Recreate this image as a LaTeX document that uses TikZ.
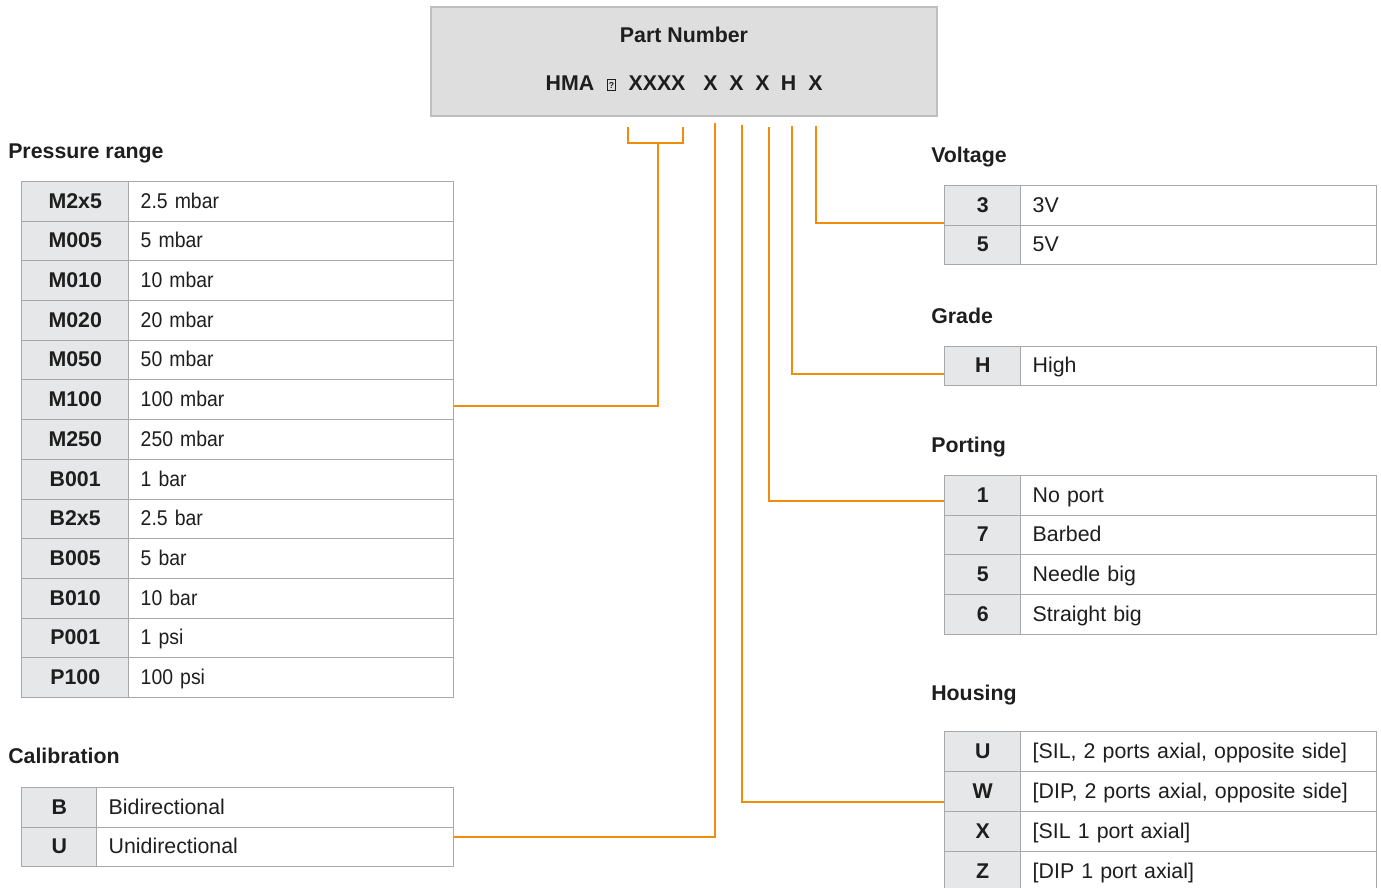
\documentclass[tikz,border=0pt]{standalone}
\usepackage{fontspec}
\setmainfont{Liberation Sans}
\newfontfamily\narrowfont[FakeStretch=0.91]{Liberation Sans}
\definecolor{orangeline}{RGB}{240,140,12}
\definecolor{cellborder}{RGB}{168,168,168}
\definecolor{labfill}{RGB}{230,231,232}
\definecolor{pnfill}{RGB}{222,222,222}
\definecolor{pnborder}{RGB}{190,190,190}
\definecolor{txt}{RGB}{30,30,30}
\newcommand\trow[8]{%
  \node[labcell, minimum width={(#3-#2)*0.75pt}, minimum height={(#6-#5)*0.75pt}, anchor=north west] (#1l) at (#2,#5) {#7};
  \node[valcell, minimum width={(#4-#3)*0.75pt}, text width={(#4-#3-24)*0.75pt}, minimum height={(#6-#5)*0.75pt}, anchor=north west] (#1v) at (#3,#5) {#8};
}
\newcommand\pv[1]{{\narrowfont #1}}
\begin{document}
\begin{tikzpicture}[x=0.75pt,y=-0.75pt,
  labcell/.style={draw=cellborder, fill=labfill, line width=1.1pt, inner sep=0pt,
    font=\bfseries\fontsize{16}{18}\selectfont, text=txt, text height=0.98em, text depth=0pt},
  valcell/.style={draw=cellborder, fill=white, line width=1.1pt, inner xsep=9pt, inner ysep=0pt, align=left,
    font=\fontsize{16}{18}\selectfont, text=txt, text height=0.98em, text depth=0pt},
  title/.style={anchor=west, inner sep=0pt, font=\bfseries\fontsize{16}{18}\selectfont, text=txt, text height=0.98em, text depth=0pt},
  pnpart/.style={inner sep=0pt, font=\bfseries\fontsize{16}{18}\selectfont, text=txt, text height=0.98em, text depth=0pt},
  conn/.style={draw=orangeline, line width=1.5pt}]
\useasboundingbox (0,0) rectangle (1381,888);

% Part number box
\node[draw=pnborder, fill=pnfill, line width=1.2pt, minimum width={506*0.75pt}, minimum height={109*0.75pt}, inner sep=0pt] (pn) at (684,61.5) {};
\node[pnpart] (pntitle) at (684,36) {Part Number};
\node[pnpart] (pnA) at (570,84) {HMA};
\node[draw=txt, line width=0.6pt, inner sep=0pt, minimum width=6.5pt, minimum height=8pt, font=\bfseries\fontsize{6.5}{7}\selectfont, text=txt] (pnB) at (611.5,85) {?};
\node[pnpart] (pnC) at (657,84) {XXXX};
\node[pnpart] (pnD) at (710.5,84) {X};
\node[pnpart] (pnE) at (736.5,84) {X};
\node[pnpart] (pnF) at (762.5,84) {X};
\node[pnpart] (pnG) at (788.5,84) {H};
\node[pnpart] (pnH) at (815.5,84) {X};

% Pressure range
\node[title] (tpr) at (8,152) {Pressure range};
\trow{pr1}{21}{128}{453}{181}{221}{M2x5}{\pv{2.5 mbar}}
\trow{pr2}{21}{128}{453}{221}{260}{M005}{\pv{5 mbar}}
\trow{pr3}{21}{128}{453}{260}{300}{M010}{\pv{10 mbar}}
\trow{pr4}{21}{128}{453}{300}{340}{M020}{\pv{20 mbar}}
\trow{pr5}{21}{128}{453}{340}{379}{M050}{\pv{50 mbar}}
\trow{pr6}{21}{128}{453}{379}{419}{M100}{\pv{100 mbar}}
\trow{pr7}{21}{128}{453}{419}{459}{M250}{\pv{250 mbar}}
\trow{pr8}{21}{128}{453}{459}{499}{B001}{\pv{1 bar}}
\trow{pr9}{21}{128}{453}{499}{538}{B2x5}{\pv{2.5 bar}}
\trow{pr10}{21}{128}{453}{538}{578}{B005}{\pv{5 bar}}
\trow{pr11}{21}{128}{453}{578}{618}{B010}{\pv{10 bar}}
\trow{pr12}{21}{128}{453}{618}{657}{P001}{\pv{1 psi}}
\trow{pr13}{21}{128}{453}{657}{697}{P100}{\pv{100 psi}}

% Calibration
\node[title] (tcb) at (8,757) {Calibration};
\trow{cb1}{21}{96}{453}{787}{827}{B}{Bidirectional}
\trow{cb2}{21}{96}{453}{827}{866}{U}{Unidirectional}

% Voltage
\node[title] (tvo) at (931,156) {Voltage};
\trow{vo1}{944}{1020}{1376}{185}{225}{3}{3V}
\trow{vo2}{944}{1020}{1376}{225}{264}{5}{5V}

% Grade
\node[title] (tgr) at (931,317) {Grade};
\trow{gr1}{944}{1020}{1376}{346}{385}{H}{High}

% Porting
\node[title] (tpo) at (931,446) {Porting};
\trow{po1}{944}{1020}{1376}{475}{515}{1}{No port}
\trow{po2}{944}{1020}{1376}{515}{554}{7}{Barbed}
\trow{po3}{944}{1020}{1376}{554}{594}{5}{Needle big}
\trow{po4}{944}{1020}{1376}{594}{634}{6}{Straight big}

% Housing
\node[title] (ths) at (931,694) {Housing};
\trow{hs1}{944}{1020}{1376}{731}{771}{U}{[SIL, 2 ports axial, opposite side]}
\trow{hs2}{944}{1020}{1376}{771}{811}{W}{[DIP, 2 ports axial, opposite side]}
\trow{hs3}{944}{1020}{1376}{811}{851}{X}{[SIL 1 port axial]}
\trow{hs4}{944}{1020}{1376}{851}{891}{Z}{[DIP 1 port axial]}

% Connectors
\coordinate (tA1) at (628,127);
\coordinate (tA2) at (683,127);
\coordinate (tAm) at (658,143);
\coordinate (tB) at (715,123);
\coordinate (tH) at (742,125);
\coordinate (tPo) at (769,127);
\coordinate (tG) at (792,126);
\coordinate (tV) at (816,126);
\draw[conn] (tA1) -- (tA1 |- tAm) -- (tA2 |- tAm) -- (tA2);
\draw[conn] (tAm) |- ([yshift=-5pt]pr6v.east);
\draw[conn] (tB) |- ([yshift=7.9pt]cb2v.east);
\draw[conn] (tH) |- ([yshift=-7.5pt]hs2l.west);
\draw[conn] (tPo) |- ([yshift=-3.75pt]po1l.west);
\draw[conn] (tG) |- ([yshift=-5.6pt]gr1l.west);
\draw[conn] (tV) |- ([yshift=-12.75pt]vo1l.west);
\end{tikzpicture}
\end{document}
